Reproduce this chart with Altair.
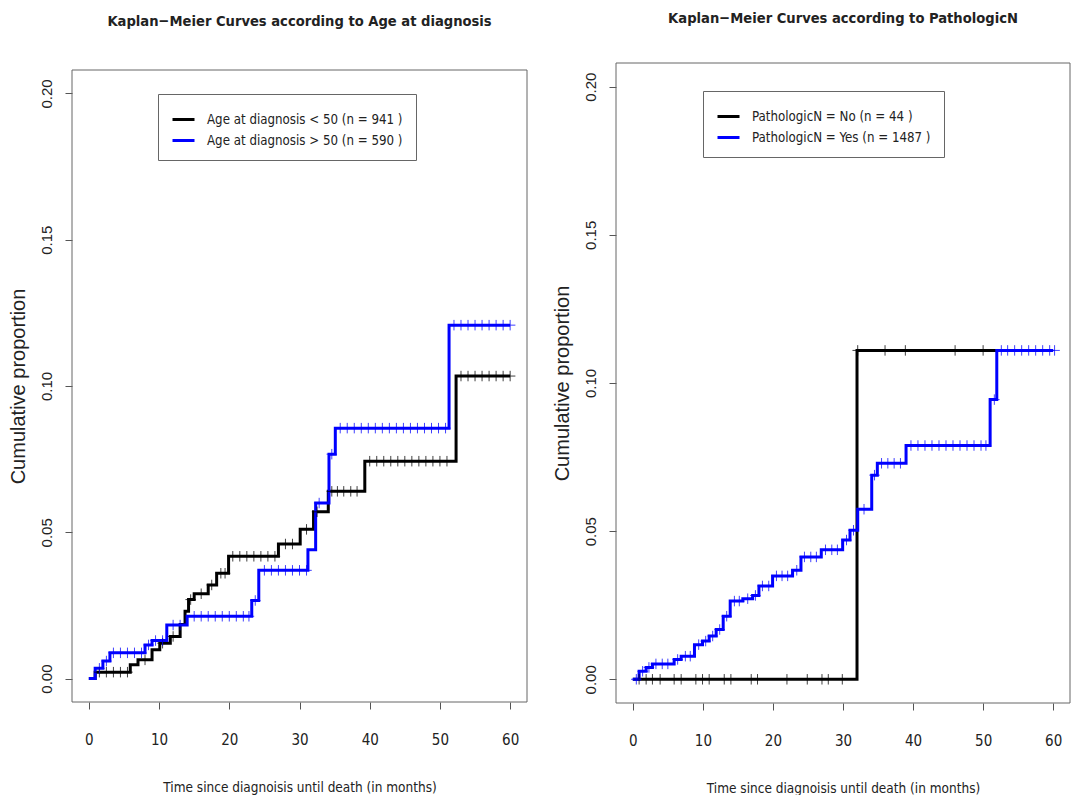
import altair as alt
import numpy as np
import pandas as pd

# ---------------- data ----------------
# Left panel: Age at diagnosis
age_lt50_t = [0, 0.9, 5.9, 7.0, 9.0, 10.1, 11.6, 13.0, 13.7, 14.2, 15.0, 17.0, 18.2, 19.9,
              27.0, 30.1, 32.0, 34.1, 39.3, 52.3, 60.0]
age_lt50_p = [0, 0.0022, 0.0047, 0.0064, 0.0099, 0.0121, 0.0144, 0.0185, 0.023, 0.027, 0.029,
              0.032, 0.036, 0.0418, 0.046, 0.051, 0.057, 0.064, 0.0743, 0.1034, 0.1034]
age_lt50_cens = [1.5, 2.5, 3.5, 4.5, 5.5, 8.0, 10.5, 12.0, 14.5, 16.0, 17.5, 18.8, 19.4,
                 20.5, 21.5, 22.5, 23.5, 24.5, 25.5, 26.5, 28.0, 29.0, 31.0, 32.5, 34.6,
                 35.4, 36.3, 37.3, 38.2, 40, 41, 42, 43, 44, 45, 46, 47, 48, 49, 50, 51,
                 53, 54, 55, 56, 57, 58, 59, 60]

age_gt50_t = [0, 0.9, 2.0, 3.0, 8.0, 9.0, 11.1, 14.0, 23.2, 24.2, 31.2, 32.3, 34.2, 35.1,
              51.3, 60.0]
age_gt50_p = [0, 0.0035, 0.006, 0.0088, 0.0115, 0.013, 0.0183, 0.0213, 0.0267, 0.037, 0.044,
              0.060, 0.0767, 0.0856, 0.1208, 0.1208]
age_gt50_cens = [1.5, 2.5, 3.5, 4.5, 5.5, 6.5, 7.5, 8.5, 9.5, 10.5, 12.0, 13.0, 15, 16, 17,
                 18, 19, 20, 21, 22, 22.8, 23.7, 25, 26, 27, 28, 29, 30, 31, 32.8, 34.6,
                 35.8, 36.8, 37.8, 38.8, 39.8, 40.8, 41.8, 42.8, 43.8, 44.8, 45.8, 46.8,
                 47.8, 48.8, 49.8, 50.8, 52, 53, 54, 55, 56, 57, 58, 59, 60]

# Right panel: PathologicN
pn_no_t = [0, 32.0, 52.0]
pn_no_p = [0, 0.111, 0.111]
pn_no_cens = [0.9, 1.9, 2.8, 3.9, 5.9, 6.9, 9.0, 9.95, 10.9, 13.05, 14.0, 16.9, 17.8, 22.0,
              24.9, 27.0, 27.9, 29.9, 32.1, 36.0, 38.9, 46.0, 50.0]

pn_yes_t = [0, 0.9, 1.9, 2.8, 5.9, 6.9, 8.8, 9.95, 10.9, 11.9, 12.9, 13.9, 15.7, 17.1, 18.0,
            19.95, 22.8, 24.0, 26.9, 29.95, 31.0, 32.1, 34.1, 34.9, 39.0, 51.0, 51.95, 60.0]
pn_yes_p = [0, 0.0027, 0.004, 0.0052, 0.0067, 0.0078, 0.0117, 0.0129, 0.0146, 0.0168, 0.0213,
            0.0264, 0.0272, 0.0283, 0.0315, 0.0349, 0.0368, 0.0413, 0.0437, 0.047, 0.0503,
            0.0574, 0.0689, 0.0729, 0.0789, 0.0944, 0.111, 0.111]
pn_yes_cens = [0.5, 1.4, 2.3, 3.3, 4.2, 5.0, 6.4, 7.5, 8.2, 9.4, 10.4, 11.4, 12.4, 13.4, 14.5,
               15.2, 16.4, 17.5, 18.5, 19.4, 20.5, 21.3, 22.1, 23.4, 24.5, 25.4, 26.2, 27.5,
               28.4, 29.2, 30.5, 31.5, 33.0, 34.5, 35.5, 36.4, 37.3, 38.2, 39.7, 40.7, 41.7,
               42.7, 43.7, 44.7, 45.7, 46.7, 47.7, 48.7, 49.7, 50.4, 51.6, 52.6, 53.5, 54.5,
               55.5, 56.5, 57.5, 58.5, 59.5, 60.2]

left_labels = ["Age at diagnosis < 50 (n = 941 )", "Age at diagnosis > 50 (n = 590 )"]
right_labels = ["PathologicN = No (n = 44 )", "PathologicN = Yes (n = 1487 )"]
left_title = "Kaplan\u2212Meier Curves according to Age at diagnosis"
right_title = "Kaplan\u2212Meier Curves according to PathologicN"
x_title = "Time since diagnoisis until death (in months)"
y_title = "Cumulative proportion"
x_ticks = [0, 10, 20, 30, 40, 50, 60]
y_ticks = [0.0, 0.05, 0.10, 0.15, 0.20]
colors = ["#000000", "#0000FF"]

NARROW = "Liberation Sans Narrow, Arial Narrow, DejaVu Sans Condensed, sans-serif"
REG = "Liberation Sans, Arial, sans-serif"


def step_df(series):
    rows = []
    for k, (lab, t, p) in enumerate(series):
        for ti, pi in zip(t, p):
            rows.append({"t": ti, "p": pi, "group": lab, "order": k})
    return pd.DataFrame(rows)


def cens_df(series):
    rows = []
    for k, (lab, t, p, c) in enumerate(series):
        t_arr = np.asarray(t)
        for ci in c:
            idx = int(np.searchsorted(t_arr, ci, side="right") - 1)
            rows.append({"t": ci, "p": p[idx], "group": lab, "order": k})
    return pd.DataFrame(rows)


def panel(series, labels, title, width, height, frame_top, lx, ly, toff):
    sdf = step_df([(l, t, p) for l, t, p, c in series])
    cdf = cens_df(series)
    xs = alt.X("t:Q", scale=alt.Scale(domain=[-2.4, 62.4], nice=False, zero=False),
               axis=alt.Axis(values=x_ticks, title=x_title, format="d"))
    ys = alt.Y("p:Q", scale=alt.Scale(domain=[-0.008, 0.208], nice=False, zero=False,
                                      range=[height, frame_top]),
               axis=alt.Axis(values=y_ticks, title=y_title, format=".2f"))
    col = alt.Color("group:N", scale=alt.Scale(domain=labels, range=colors),
                    legend=alt.Legend(title=None, orient="none", legendX=lx, legendY=ly,
                                      symbolType="stroke", symbolStrokeWidth=3,
                                      symbolSize=484, strokeColor="#666", fillColor="white",
                                      padding=13, labelFont=NARROW, labelFontSize=13.2,
                                      labelColor="#222", rowPadding=2, labelOffset=11,
                                      labelLimit=400))
    frame = alt.Chart(pd.DataFrame({"f": [0]})).mark_rect(
        filled=False, stroke="#666", strokeWidth=1, fill=None).encode(
        x=alt.value(0), x2=alt.value(width), y=alt.value(frame_top), y2=alt.value(height))
    lines = alt.Chart(sdf).mark_line(interpolate="step-after", strokeWidth=3).encode(
        x=xs, y=ys, color=col, order="order:Q")
    cens = alt.Chart(cdf).mark_point(shape="M-1,0L1,0M0,-1L0,1", size=110, strokeWidth=1,
                                     filled=False, opacity=0.75).encode(
        x=xs, y=ys, color=alt.Color("group:N", scale=alt.Scale(domain=labels, range=colors),
                                    legend=None))
    return alt.layer(frame, lines, cens).properties(
        width=width, height=height,
        title=alt.Title(title, font=NARROW, fontSize=14.6, fontWeight="bold", color="#222",
                        anchor="middle", offset=toff))


left = panel([(left_labels[0], age_lt50_t, age_lt50_p, age_lt50_cens),
              (left_labels[1], age_gt50_t, age_gt50_p, age_gt50_cens)],
             left_labels, left_title, 455, 639, 7, 86, 31, 34)
right = panel([(right_labels[0], pn_no_t, pn_no_p, pn_no_cens),
               (right_labels[1], pn_yes_t, pn_yes_p, pn_yes_cens)],
              right_labels, right_title, 454, 640, 0, 87, 28, 37)

chart = alt.hconcat(left, right, spacing=24).resolve_scale(color="independent").properties(
    padding={"left": 8, "top": 10, "right": 0, "bottom": 0},
    background="white",
).configure_view(stroke=None).configure_axis(
    domain=False, grid=False, tickColor="#555", tickSize=7, tickWidth=1,
    labelColor="#222", titleColor="#222", titleFontWeight="normal",
).configure_axisX(
    labelFont=NARROW, labelFontSize=15, labelPadding=23, titleFont=NARROW, titleFontSize=13.5,
    titlePadding=33,
).configure_axisY(
    labelFont=REG, labelFontSize=15, labelAngle=-90, labelAlign="center",
    labelBaseline="bottom", labelPadding=11, titleFont=REG, titleFontSize=20, titlePadding=11,
)

chart.save("out.html", embed_options={"renderer": "svg", "actions": False})
